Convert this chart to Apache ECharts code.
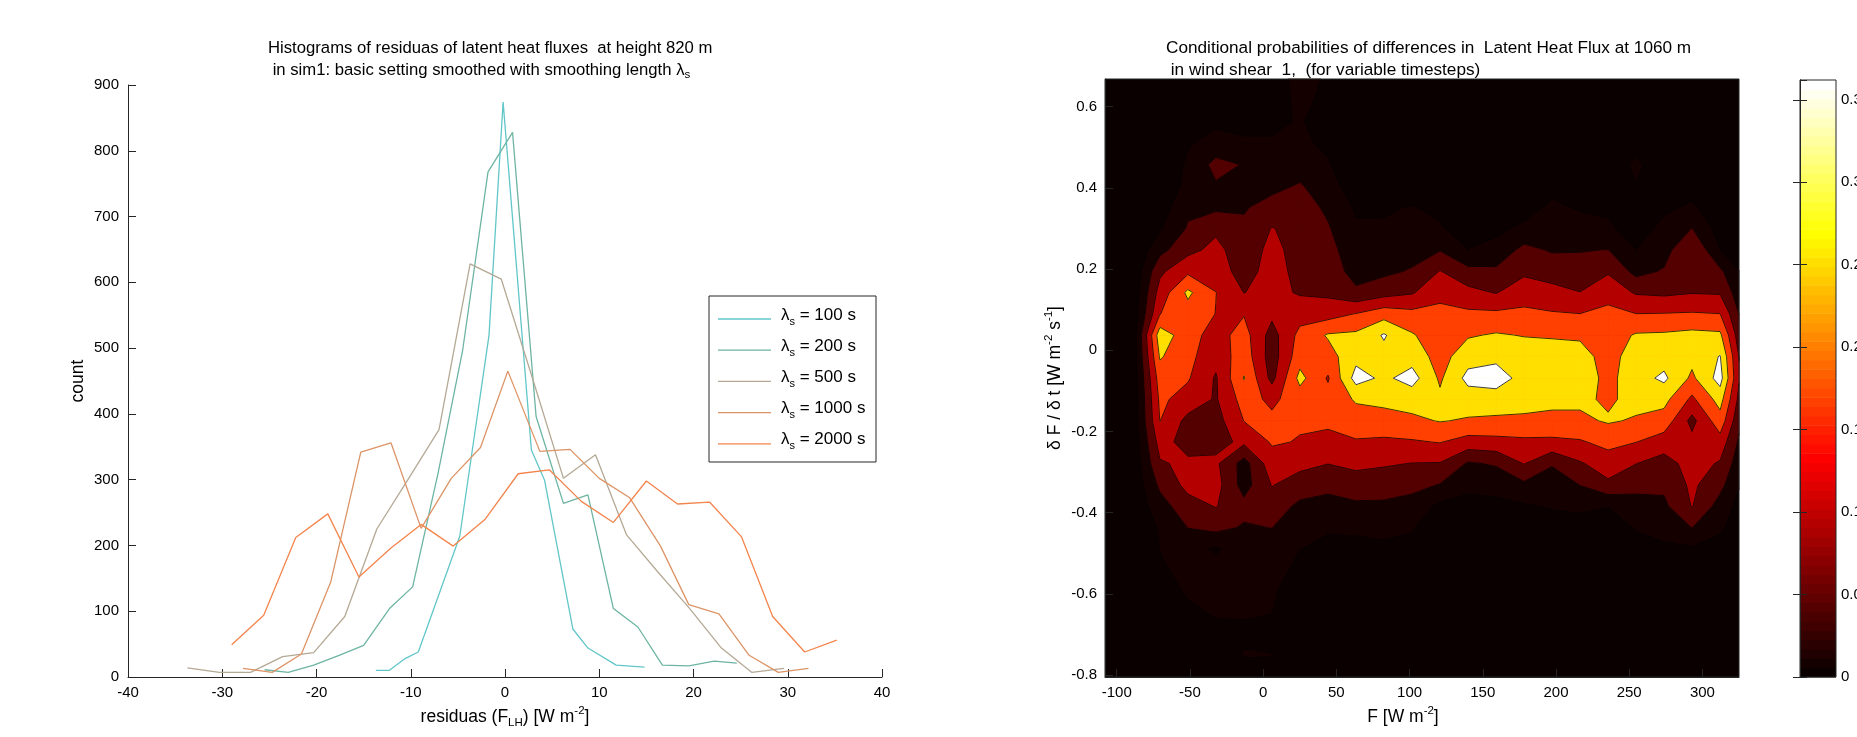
<!DOCTYPE html>
<html><head><meta charset="utf-8">
<script src="https://cdn.jsdelivr.net/npm/echarts@6/dist/echarts.min.js"></script>
<style>html,body{margin:0;padding:0;background:#fff}#c{width:1857px;height:737px}</style>
</head><body><div id="c"></div>
<script>
// ---------------- left panel: histograms ----------------
const seriesNames = ['100 s', '200 s', '500 s', '1000 s', '2000 s'];
const seriesColors = ['#62c6c8', '#6db4a2', '#b4a995', '#dc9467', '#f3844c'];
const resid100 = [-13.7,-12.3,-10.6,-9.2,-4.8,-1.7,-0.2,2.8,4.2,7.2,8.8,11.8,14.8];
const count100 = [10,10,28,38,214,519,874,345,299,73,44,18,15];
const resid200 = [-25.5,-23,-20.3,-17.6,-15,-12.2,-9.8,-7.1,-4.5,-1.8,0.8,3.3,6.2,8.8,11.5,14.1,16.7,19.5,22.2,24.6];
const count200 = [11,7,18,33,48,105,137,310,496,768,828,396,264,277,104,76,18,17,24,21];
const resid500 = [-33.7,-30.3,-27,-23.6,-20.3,-17,-13.6,-10.3,-7,-3.7,-0.4,2.9,6.2,9.6,12.9,16.2,19.6,22.9,26.2,29.6];
const count500 = [14,7,7,31,37,92,225,300,376,628,605,455,302,338,216,160,104,45,7,13];
const resid1000 = [-27.8,-24.7,-21.6,-18.5,-15.3,-12.1,-8.9,-5.7,-2.6,0.3,3.7,6.9,10,13.2,16.5,19.5,22.7,25.9,29,32.2];
const count1000 = [13,7,35,144,342,356,226,302,349,465,343,346,302,273,199,110,96,33,7,13];
const resid2000 = [-29,-25.6,-22.2,-18.8,-15.5,-12.1,-8.9,-5.5,-2.1,1.4,4.7,8.1,11.5,15,18.3,21.7,25.1,28.4,31.8,35.2];
const count2000 = [49,94,212,248,152,196,232,199,240,309,315,267,235,298,263,266,213,92,38,56];

// ---------------- right panel: conditional probabilities ----------------
const fluxBins = [-108.8,-89.65,-70.5,-51.4,-32.3,-13.1,6.0,25.1,44.3,63.4,82.5,101.7,120.8,139.9,159.1,178.2,197.3,216.4,235.6,254.7,273.8,292.9,312.1,331.2];
const rateBins = [-0.805,-0.752,-0.7,-0.647,-0.595,-0.542,-0.489,-0.437,-0.384,-0.332,-0.279,-0.226,-0.174,-0.121,-0.069,-0.016,0.037,0.089,0.142,0.194,0.247,0.3,0.352,0.405,0.457,0.51,0.563,0.615,0.668];
// prob[k][i] : flux bin k, rate bin i (bottom to top)
const prob = [
 [0,0,0,0,0,0,0,0,0,0,0,0,0,0,0,0,0,0,0,0,0,0,0,0,0,0,0,0,0],
 [0,0,0,0,0,0,0.005,0.01,0.01,0.01,0.01,0.01,0.01,0.01,0.01,0.01,0.01,0.01,0.01,0.005,0.005,0,0,0,0,0,0,0,0],
 [0,0,0.005,0.015,0.03,0.045,0.051,0.055,0.08,0.11,0.145,0.17,0.201,0.21,0.225,0.255,0.28,0.199,0.17,0.14,0.085,0.045,0.025,0.01,0,0,0,0,0],
 [0,0.005,0.02,0.04,0.055,0.06,0.065,0.101,0.13,0.165,0.16,0.13,0.135,0.18,0.205,0.215,0.22,0.23,0.26,0.19,0.135,0.105,0.09,0.065,0.06,0.045,0.02,0,0],
 [0,0.015,0.035,0.055,0.065,0.065,0.045,0.115,0.1525,0.17,0.16,0.135,0.13,0.145,0.145,0.165,0.18,0.199,0.201,0.175,0.165,0.14,0.09,0.095,0.115,0.07,0.04,0.015,0],
 [0.01,0.055,0.04,0.055,0.06,0.06,0.07,0.095,0.115,0.08,0.08,0.16,0.201,0.22,0.2525,0.23,0.22,0.1975,0.149,0.13,0.12,0.11,0.095,0.075,0.0975,0.06,0.03,0.01,0],
 [0.02,0.052,0.035,0.051,0.055,0.065,0.075,0.101,0.125,0.1525,0.18,0.205,0.21,0.19,0.135,0.125,0.13,0.16,0.165,0.17,0.165,0.152,0.12,0.085,0.065,0.055,0.04,0.02,0.01],
 [0,0.005,0.01,0.02,0.03,0.04,0.051,0.065,0.09,0.125,0.165,0.1975,0.205,0.225,0.265,0.23,0.215,0.18,0.145,0.135,0.13,0.135,0.125,0.105,0.075,0.06,0.054,0.065,0.08],
 [0,0,0,0.005,0.01,0.025,0.04,0.055,0.08,0.115,0.151,0.185,0.21,0.22,0.195,0.23,0.255,0.18,0.14,0.13,0.12,0.105,0.09,0.07,0.055,0.04,0.03,0.035,0.04],
 [0,0,0,0,0.005,0.015,0.035,0.06,0.09,0.13,0.16,0.195,0.23,0.255,0.32,0.285,0.26,0.2025,0.11,0.08,0.065,0.055,0.045,0.025,0.01,0,0,0,0],
 [0,0,0,0,0.005,0.02,0.04,0.065,0.09,0.125,0.155,0.19,0.235,0.26,0.29,0.285,0.305,0.23,0.13,0.09,0.07,0.055,0.045,0.03,0.015,0.005,0,0,0],
 [0,0,0,0,0,0.015,0.035,0.055,0.08,0.115,0.149,0.195,0.24,0.27,0.32,0.28,0.255,0.215,0.145,0.105,0.08,0.065,0.0525,0.03,0.01,0,0,0,0],
 [0,0,0,0,0,0,0,0.015,0.04,0.0975,0.1475,0.2025,0.2525,0.26,0.2425,0.23,0.22,0.21,0.19,0.1525,0.0975,0.055,0.04,0.02,0.005,0,0,0,0],
 [0,0,0,0,0,0,0,0.01,0.03,0.065,0.095,0.18,0.245,0.275,0.315,0.28,0.245,0.21,0.165,0.115,0.051,0.03,0.015,0.005,0,0,0,0,0],
 [0,0,0,0,0,0,0,0.015,0.035,0.07,0.105,0.185,0.24,0.28,0.32,0.29,0.255,0.21,0.1475,0.11,0.065,0.04,0.02,0.005,0,0,0,0,0],
 [0,0,0,0,0,0,0,0.015,0.045,0.09,0.1525,0.19,0.24,0.27,0.285,0.28,0.2475,0.21,0.18,0.14,0.115,0.06,0.03,0.01,0,0,0,0,0],
 [0,0,0,0,0,0,0.005,0.025,0.055,0.07,0.105,0.19,0.235,0.265,0.28,0.275,0.245,0.205,0.165,0.13,0.095,0.075,0.06,0.035,0.015,0.005,0,0,0],
 [0,0,0,0,0,0,0.01,0.03,0.06,0.101,0.145,0.195,0.24,0.26,0.28,0.27,0.2425,0.201,0.151,0.12,0.0975,0.07,0.045,0.025,0.01,0,0,0,0],
 [0,0,0,0,0,0,0.005,0.02,0.0525,0.14,0.175,0.215,0.255,0.2425,0.235,0.23,0.225,0.215,0.18,0.145,0.101,0.06,0.04,0.02,0.005,0,0,0,0],
 [0,0,0,0,0,0.01,0.03,0.055,0.08,0.115,0.151,0.201,0.245,0.265,0.28,0.275,0.255,0.201,0.145,0.085,0.051,0.025,0.02,0.0485,0.065,0.025,0.005,0,0],
 [0,0,0,0,0,0.015,0.04,0.07,0.09,0.11,0.13,0.175,0.23,0.265,0.31,0.28,0.2575,0.2025,0.14,0.105,0.08,0.065,0.04,0.02,0.005,0,0,0,0],
 [0,0,0,0,0,0.015,0.045,0.101,0.1525,0.16,0.17,0.165,0.135,0.19,0.24,0.265,0.265,0.205,0.1475,0.13,0.151,0.101,0.06,0.025,0.01,0,0,0,0],
 [0,0,0,0,0,0.01,0.03,0.06,0.08,0.115,0.145,0.18,0.23,0.27,0.32,0.3025,0.26,0.201,0.145,0.11,0.051,0.03,0.015,0.005,0,0,0,0,0],
 [0,0,0,0,0,0,0,0.005,0.015,0.025,0.04,0.051,0.06,0.075,0.075,0.075,0.06,0.051,0.04,0.025,0.015,0.005,0,0,0,0,0,0,0]
];
const levels = [0.05, 0.10, 0.15, 0.20, 0.25, 0.30];
const bandColors = ['#0b0000', '#150000', '#550000', '#b50000', '#ff4000', '#ffdf00', '#ffffff'];
const fluxTicks = [-100, -50, 0, 50, 100, 150, 200, 250, 300];
const rateTicks = [-0.8, -0.6, -0.4, -0.2, 0, 0.2, 0.4, 0.6];
const fluxMin = -108, fluxMax = 325, rateMin = -0.805, rateMax = 0.668;
const cbarMax = 0.362;
const cbarSteps = 64;

// ---------------- helpers ----------------
const FT = '"Liberation Sans", Arial, Helvetica, sans-serif';

function hotColor(j, m) {
  const n = Math.floor(3 / 8 * m), idx = j + 1;
  const r = idx <= n ? idx / n : 1;
  const g = idx <= n ? 0 : (idx <= 2 * n ? (idx - n) / n : 1);
  const b = idx <= 2 * n ? 0 : (idx - 2 * n) / (m - 2 * n);
  const h = v => Math.round(v * 255);
  return 'rgb(' + h(r) + ',' + h(g) + ',' + h(b) + ')';
}
function clipHalf(pts, xb, keepLess) {
  const out = [];
  for (let m = 0; m < pts.length; m++) {
    const p = pts[m], q = pts[(m + 1) % pts.length];
    const pin = keepLess ? p[0] <= xb : p[0] >= xb;
    const qin = keepLess ? q[0] <= xb : q[0] >= xb;
    if (pin) out.push(p);
    if (pin !== qin) { const t = (xb - p[0]) / (q[0] - p[0]); out.push([xb, p[1] + t * (q[1] - p[1])]); }
  }
  return out;
}
function clipSeg(a, b) {
  let t0 = 0, t1 = 1; const dx = b[0] - a[0];
  if (Math.abs(dx) < 1e-12) { if (a[0] < fluxMin || a[0] > fluxMax) return null; }
  else {
    let ta = (fluxMin - a[0]) / dx, tb = (fluxMax - a[0]) / dx;
    if (ta > tb) { const s = ta; ta = tb; tb = s; }
    t0 = Math.max(t0, ta); t1 = Math.min(t1, tb);
    if (t0 >= t1) return null;
  }
  return [[a[0] + t0 * dx, a[1] + t0 * (b[1] - a[1])], [a[0] + t1 * dx, a[1] + t1 * (b[1] - a[1])]];
}
function renderContour(params, api) {
  const cs = params.coordSys;
  const kids = [{ type: 'rect', silent: true, shape: { x: cs.x, y: cs.y, width: cs.width, height: cs.height }, style: { fill: bandColors[0] } }];
  const segs = [];
  const nx = fluxBins.length, ny = rateBins.length;
  for (let l = 0; l < levels.length; l++) {
    const L = levels[l], col = bandColors[l + 1];
    for (let k = 0; k < nx - 1; k++) for (let i = 0; i < ny - 1; i++) {
      const c = [[fluxBins[k], rateBins[i], prob[k][i]], [fluxBins[k + 1], rateBins[i], prob[k + 1][i]],
                 [fluxBins[k + 1], rateBins[i + 1], prob[k + 1][i + 1]], [fluxBins[k], rateBins[i + 1], prob[k][i + 1]]];
      if (!c.some(q => q[2] >= L)) continue;
      const poly = [];
      for (let e = 0; e < 4; e++) {
        const a = c[e], b = c[(e + 1) % 4];
        const ia = a[2] >= L, ib = b[2] >= L;
        if (ia) poly.push([a[0], a[1], false]);
        if (ia !== ib) { const t = (L - a[2]) / (b[2] - a[2]); poly.push([a[0] + t * (b[0] - a[0]), a[1] + t * (b[1] - a[1]), true]); }
      }
      for (let m = 0; m < poly.length; m++) {
        const p = poly[m], q = poly[(m + 1) % poly.length];
        if (p[2] && q[2]) segs.push([p, q]);
      }
      let cp = clipHalf(poly, fluxMin, false); cp = clipHalf(cp, fluxMax, true);
      if (cp.length >= 3) kids.push({ type: 'polygon', silent: true, shape: { points: cp.map(p => api.coord([p[0], p[1]])) }, style: { fill: col, stroke: col, lineWidth: 0.7 } });
    }
  }
  for (const s of segs) {
    const cl = clipSeg(s[0], s[1]); if (!cl) continue;
    const p = api.coord(cl[0]), q = api.coord(cl[1]);
    kids.push({ type: 'line', silent: true, shape: { x1: p[0], y1: p[1], x2: q[0], y2: q[1] }, style: { stroke: '#000', lineWidth: 0.75 } });
  }
  return { type: 'group', children: kids };
}
function renderCbar(params, api) {
  const j = api.value(0);
  const p0 = api.coord([0, j / cbarSteps * cbarMax]), p1 = api.coord([1, (j + 1) / cbarSteps * cbarMax]);
  return { type: 'rect', silent: true, shape: { x: p0[0], y: p1[1], width: p1[0] - p0[0], height: p0[1] - p1[1] + 0.6 }, style: { fill: hotColor(j, cbarSteps) } };
}
const fmtNum = v => { const r = parseFloat(Number(v).toFixed(3)); return r === 0 ? '0' : String(r); };

const richBase = { fontFamily: FT, fontSize: 17.5, lineHeight: 24, color: '#000', verticalAlign: 'middle' };
const richSet = {
  sub: { fontFamily: FT, fontSize: 11.5, lineHeight: 12, color: '#000', verticalAlign: 'bottom' },
  sup: { fontFamily: FT, fontSize: 11.5, lineHeight: 12, color: '#000', verticalAlign: 'top' }
};
const axisText = { color: '#000', fontSize: 15, fontFamily: FT };
const axisLineStyle = { color: '#262626', width: 1 };

const histSeries = [[resid100, count100], [resid200, count200], [resid500, count500], [resid1000, count1000], [resid2000, count2000]]
  .map((xy, j) => ({
    type: 'line', name: seriesNames[j], xAxisIndex: 0, yAxisIndex: 0, symbol: 'none', animation: false,
    lineStyle: { color: seriesColors[j], width: 1.3 }, itemStyle: { color: seriesColors[j] },
    data: xy[0].map((x, i) => [x, xy[1][i]])
  }));

const legendGraphics = [{ type: 'rect', z: 10, shape: { x: 709, y: 296, width: 167, height: 166 }, style: { fill: '#fff', stroke: '#262626', lineWidth: 1 } }];
seriesNames.forEach((n, j) => {
  const y = 315 + j * 31.2;
  legendGraphics.push({ type: 'line', z: 11, shape: { x1: 718, y1: y + 4, x2: 771, y2: y + 4 }, style: { stroke: seriesColors[j], lineWidth: 1.3 } });
  legendGraphics.push({ type: 'text', z: 11, x: 781, y: y, style: {
    text: '{l|λ}{s|s}{t| = ' + n + '}', verticalAlign: 'middle', align: 'left',
    rich: { l: { fontSize: 17, fontFamily: FT, fill: '#000', lineHeight: 24, verticalAlign: 'middle' },
            s: { fontSize: 11, fontFamily: FT, fill: '#000', lineHeight: 11, verticalAlign: 'bottom' },
            t: { fontSize: 17, fontFamily: FT, fill: '#000', lineHeight: 24, verticalAlign: 'middle' } } } });
});

const option = {
  backgroundColor: '#fff',
  animation: false,
  title: [
    { left: 263, top: 32, text: 'Histograms of residuas of latent heat fluxes  at height 820 m\n in sim1: basic setting smoothed with smoothing length λ{sub|s}',
      textStyle: { fontFamily: FT, fontSize: 16.7, fontWeight: 'normal', color: '#000', lineHeight: 22, rich: richSet } },
    { left: 1161, top: 32, text: 'Conditional probabilities of differences in  Latent Heat Flux at 1060 m\n in wind shear  1,  (for variable timesteps)',
      textStyle: { fontFamily: FT, fontSize: 17.2, fontWeight: 'normal', color: '#000', lineHeight: 22 } }
  ],
  grid: [
    { left: 128, top: 85, width: 754, height: 592, outerBoundsMode: 'none', containLabel: false },
    { left: 1105, top: 79, width: 634, height: 598, show: true, borderColor: '#262626', borderWidth: 1, z: 10, outerBoundsMode: 'none', containLabel: false },
    { left: 1800, top: 80, width: 36, height: 597, show: true, borderColor: '#262626', borderWidth: 1, z: 10, outerBoundsMode: 'none', containLabel: false }
  ],
  xAxis: [
    { gridIndex: 0, type: 'value', min: -40, max: 40, interval: 10,
      axisLine: { show: true, onZero: false, lineStyle: axisLineStyle }, axisTick: { inside: true, length: 8, lineStyle: axisLineStyle },
      axisLabel: Object.assign({ margin: 8 }, axisText), splitLine: { show: false },
      name: 'residuas (F{sub|LH}) [W m{sup|-2}]', nameLocation: 'middle', nameGap: 27,
      nameTextStyle: Object.assign({ rich: richSet }, richBase) },
    { gridIndex: 1, type: 'value', min: fluxMin, max: fluxMax, z: 5,
      axisLine: { show: true, onZero: false, lineStyle: axisLineStyle },
      axisTick: { inside: true, length: 8, customValues: fluxTicks, lineStyle: axisLineStyle },
      axisLabel: Object.assign({ margin: 8, customValues: fluxTicks, formatter: fmtNum }, axisText), splitLine: { show: false },
      name: 'F [W m{sup|-2}]', nameLocation: 'middle', nameGap: 27,
      nameTextStyle: Object.assign({ rich: richSet, padding: [0, 38, 0, 0] }, richBase) },
    { gridIndex: 2, type: 'value', min: 0, max: 1, show: false }
  ],
  yAxis: [
    { gridIndex: 0, type: 'value', min: 0, max: 900, interval: 100,
      axisLine: { show: true, onZero: false, lineStyle: axisLineStyle }, axisTick: { inside: true, length: 8, lineStyle: axisLineStyle },
      axisLabel: Object.assign({ margin: 9 }, axisText), splitLine: { show: false },
      name: 'count', nameLocation: 'middle', nameRotate: 90, nameGap: 42, nameTextStyle: Object.assign({}, richBase) },
    { gridIndex: 1, type: 'value', min: rateMin, max: rateMax, z: 5,
      axisLine: { show: true, onZero: false, lineStyle: axisLineStyle },
      axisTick: { inside: true, length: 8, customValues: rateTicks, lineStyle: axisLineStyle },
      axisLabel: Object.assign({ margin: 8, customValues: rateTicks, formatter: fmtNum }, axisText), splitLine: { show: false },
      name: 'δ F / δ t [W m{sup|-2} s{sup|-1}]', nameLocation: 'middle', nameRotate: 90, nameGap: 38,
      nameTextStyle: Object.assign({ rich: richSet }, richBase) },
    { gridIndex: 2, type: 'value', position: 'right', min: 0, max: cbarMax, interval: 0.05, z: 5,
      axisLine: { show: true, lineStyle: axisLineStyle }, axisTick: { inside: true, length: 7, lineStyle: axisLineStyle },
      axisLabel: Object.assign({ margin: 5, formatter: fmtNum, showMaxLabel: false }, axisText), splitLine: { show: false } },
    { gridIndex: 2, type: 'value', position: 'left', min: 0, max: cbarMax, interval: 0.05, z: 5,
      axisLine: { show: true, lineStyle: axisLineStyle }, axisTick: { inside: true, length: 7, lineStyle: axisLineStyle },
      axisLabel: { show: false }, splitLine: { show: false } }
  ],
  graphic: legendGraphics,
  series: histSeries.concat([
    { type: 'custom', xAxisIndex: 1, yAxisIndex: 1, data: [[0, 0]], renderItem: renderContour, silent: true, animation: false, z: 2 },
    { type: 'custom', xAxisIndex: 2, yAxisIndex: 2, data: Array.from({ length: cbarSteps }, (_, j) => [j]), encode: { x: -1, y: 0 },
      renderItem: renderCbar, silent: true, animation: false, z: 2 }
  ])
};
const chart = echarts.init(document.getElementById('c'), null, { renderer: 'canvas', width: 1857, height: 737 });
chart.setOption(option);
</script></body></html>
